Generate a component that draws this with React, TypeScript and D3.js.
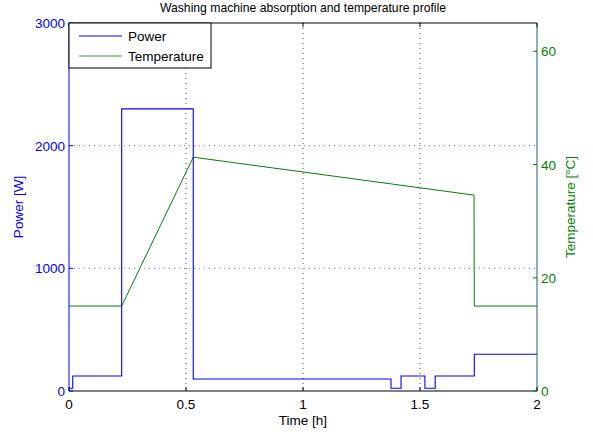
import React from "react";
import * as d3 from "d3";

const powerTime = [0, 0.016, 0.225, 0.531, 1.376, 1.419, 1.521, 1.565, 1.732, 2];
const powerValue = [22, 122, 2300, 98, 22, 122, 22, 122, 300, 300];
const tempTime = [0, 0.225, 0.531, 1.731, 1.732, 2];
const tempValue = [15, 15, 41.3, 34.6, 15, 15];
const xTicks = [0, 0.5, 1, 1.5, 2];
const xTickLabels = ["0", "0.5", "1", "1.5", "2"];
const powerTicks = [0, 1000, 2000, 3000];
const tempTicks = [0, 20, 40, 60];

const W = 593, H = 437;
const L = 69, R = 537, T = 23, B = 391;
const BLUE = "#0000ff";
const GREEN = "#008000";
const FONT = "'Liberation Sans', Arial, Helvetica, sans-serif";

export default function App() {
  const x = d3.scaleLinear().domain([0, 2]).range([L, R]);
  const yP = d3.scaleLinear().domain([0, 3000]).range([B, T]);
  const yT = d3.scaleLinear().domain([0, 65]).range([B, T]);

  const pPts: [number, number][] = powerTime.map((t, i) => [t, powerValue[i]]);
  const powerLine = d3
    .line<[number, number]>()
    .x((d) => x(d[0]))
    .y((d) => yP(d[1]))
    .curve(d3.curveStepAfter)(pPts) as string;
  const tPts: [number, number][] = tempTime.map((t, i) => [t, tempValue[i]]);
  const tempLine = d3
    .line<[number, number]>()
    .x((d) => x(d[0]))
    .y((d) => yT(d[1]))(tPts) as string;

  return (
    <svg width={W} height={H} style={{ position: "absolute", left: 0, top: 0 }} fontFamily={FONT}>
      <rect x={0} y={0} width={W} height={H} fill="#fff" />
      {/* grid */}
      {xTicks.slice(1, -1).map((t) => (
        <line key={"gx" + t} x1={x(t)} x2={x(t)} y1={T} y2={B} stroke="#000" strokeWidth={1} strokeDasharray="1,4" opacity={0.7} />
      ))}
      {powerTicks.slice(1, -1).map((p) => (
        <line key={"gy" + p} x1={L} x2={R} y1={yP(p)} y2={yP(p)} stroke="#7070ff" strokeWidth={1} strokeDasharray="1,4" />
      ))}
      {/* data */}
      <path d={tempLine} fill="none" stroke={GREEN} strokeWidth={1} />
      <path d={powerLine} fill="none" stroke={BLUE} strokeWidth={1.1} />
      {/* frame */}
      <line x1={L} x2={R} y1={T} y2={T} stroke="#000" />
      <line x1={L} x2={R} y1={B} y2={B} stroke="#000" />
      <line x1={L} x2={L} y1={T} y2={B} stroke={BLUE} />
      <line x1={R} x2={R} y1={T} y2={B} stroke="#1f5f6f" />
      {/* x ticks */}
      {xTicks.map((t, i) => (
        <g key={"xt" + t}>
          <line x1={x(t)} x2={x(t)} y1={B} y2={B - 4} stroke="#000" />
          <line x1={x(t)} x2={x(t)} y1={T} y2={T + 4} stroke="#000" />
          <text x={x(t)} y={B + 18} textAnchor="middle" fontSize={13.5} fill="#000">{xTickLabels[i]}</text>
        </g>
      ))}
      {/* left ticks */}
      {powerTicks.map((p) => (
        <g key={"pt" + p}>
          <line x1={L} x2={L + 4} y1={yP(p)} y2={yP(p)} stroke={BLUE} />
          <text x={L - 4} y={yP(p) + 5} textAnchor="end" fontSize={13.5} fill={BLUE}>{p}</text>
        </g>
      ))}
      {/* right ticks */}
      {tempTicks.map((v) => (
        <g key={"tt" + v}>
          <line x1={R - 4} x2={R} y1={yT(v)} y2={yT(v)} stroke={GREEN} />
          <text x={R + 4} y={yT(v) + 5} textAnchor="start" fontSize={13.5} fill={GREEN}>{v}</text>
        </g>
      ))}
      {/* labels */}
      <text x={(L + R) / 2} y={12} textAnchor="middle" fontSize={12.2} fill="#000">Washing machine absorption and temperature profile</text>
      <text x={(L + R) / 2} y={425} textAnchor="middle" fontSize={13.5} fill="#000">Time [h]</text>
      <text transform={`translate(23,${(T + B) / 2}) rotate(-90)`} textAnchor="middle" fontSize={13.5} fill={BLUE}>Power [W]</text>
      <text transform={`translate(575,${(T + B) / 2}) rotate(-90)`} textAnchor="middle" fontSize={13.5} fill={GREEN}>Temperature [°C]</text>
      {/* legend */}
      <rect x={L} y={T} width={142} height={45} fill="#fff" stroke="#000" />
      <line x1={79} x2={122} y1={36} y2={36} stroke={BLUE} />
      <text x={128} y={41} fontSize={13.5} fill="#000">Power</text>
      <line x1={79} x2={122} y1={56} y2={56} stroke="#3a9a3a" />
      <text x={128} y={61} fontSize={13.5} fill="#000">Temperature</text>
    </svg>
  );
}
